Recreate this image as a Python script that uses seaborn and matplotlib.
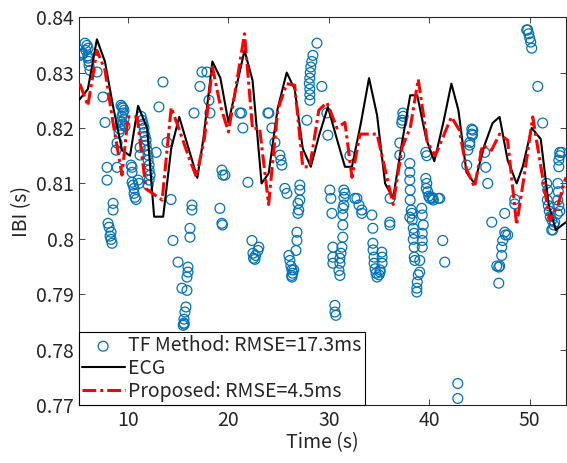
import matplotlib
matplotlib.use("Agg")
import matplotlib.pyplot as plt
import seaborn as sns
import pandas as pd
import numpy as np

# ECG reference IBI
ecg_time = [5.1, 6.0, 6.9, 7.7, 8.5, 9.4, 10.2, 11.0, 11.9, 12.6, 13.5, 14.3, 15.1, 16.0, 16.9,
            17.5, 18.4, 19.2, 20.0, 20.8, 21.6, 22.4, 23.3, 24.0, 24.9, 25.8, 26.6, 27.4, 28.2,
            29.0, 29.9, 30.8, 31.6, 32.3, 33.2, 34.0, 34.8, 35.6, 36.4, 37.2, 38.1, 38.8, 39.7,
            40.5, 41.4, 42.2, 42.9, 43.7, 44.5, 45.5, 46.3, 47.0, 47.8, 48.7, 49.3, 50.2, 51.1,
            51.9, 52.6, 53.6]
ecg_ibi = [0.825, 0.827, 0.836, 0.832, 0.824, 0.816, 0.815, 0.824, 0.820, 0.804, 0.804, 0.8163,
           0.822, 0.8165, 0.811, 0.818, 0.832, 0.829, 0.821, 0.8275, 0.834, 0.8286, 0.810, 0.8118,
           0.8235, 0.830, 0.827, 0.8163, 0.813, 0.8185, 0.8238, 0.818, 0.813, 0.813, 0.821, 0.829,
           0.8223, 0.810, 0.8073, 0.8165, 0.8259, 0.8259, 0.818, 0.814, 0.821, 0.828, 0.8232,
           0.812, 0.810, 0.8169, 0.8209, 0.822, 0.8142, 0.810, 0.813, 0.820, 0.818, 0.806,
           0.8016, 0.803]

# Proposed method IBI
prop_time = [5.2, 6.0, 6.9, 7.7, 8.5, 9.4, 10.0, 10.9, 11.8, 12.6, 13.4, 14.3, 15.1, 16.0, 16.8,
             17.6, 18.4, 19.2, 20.0, 20.8, 21.6, 22.4, 23.1, 24.0, 24.9, 25.8, 26.6, 27.4, 28.1,
             29.0, 29.8, 30.8, 31.6, 32.3, 33.1, 34.0, 34.8, 35.6, 36.4, 37.3, 38.1, 38.9, 39.8,
             40.6, 41.4, 42.2, 43.0, 43.7, 44.5, 45.3, 46.2, 47.0, 47.8, 48.7, 49.5, 50.3, 50.9,
             52.0, 52.8, 53.6]
prop_ibi = [0.828, 0.824, 0.834, 0.8305, 0.821, 0.8115, 0.822, 0.822, 0.809, 0.808, 0.807, 0.8237,
            0.8197, 0.815, 0.8112, 0.818, 0.831, 0.824, 0.8193, 0.828, 0.837, 0.8198, 0.820,
            0.8062, 0.8232, 0.828, 0.8277, 0.813, 0.813, 0.8232, 0.8246, 0.820, 0.821, 0.8111,
            0.8189, 0.8189, 0.8189, 0.8125, 0.8062, 0.8166, 0.820, 0.8288, 0.8175, 0.815, 0.8185,
            0.822, 0.8196, 0.8126, 0.8093, 0.8169, 0.816, 0.8189, 0.8178, 0.8025, 0.812, 0.822,
            0.8153, 0.8033, 0.806, 0.8111]

# TF method IBI estimates
tf_time = [5.22, 5.52, 5.72, 5.92, 6.02, 6.02, 6.12, 6.22, 5.4, 5.8, 6.1, 6.0,
           6.92, 7.51, 7.71, 7.91, 7.91, 8.51, 8.51,
           8.01, 8.11, 8.31, 8.21, 8.31, 8.41,
           9.3, 9.4, 9.5, 9.6, 9.5, 9.4, 9.6, 9.3, 9.5, 9.7, 9.2, 9.1, 9.2,
           8.91, 8.81, 8.91,
           10.3, 10.4, 10.4, 10.4, 10.5, 10.6, 10.6, 10.7, 10.8,
           11.3, 11.4, 11.5, 11.6, 11.6, 11.7, 11.8, 11.8, 11.9, 12.0, 12.0, 12.1, 12.1, 12.2,
           12.1, 12.0, 11.2, 11.2, 11.0, 11.1, 12.8,
           13.08, 13.48, 13.88, 14.28, 14.48,
           14.98, 15.37, 15.87, 15.97, 15.97, 15.87, 15.77, 15.67, 15.57, 15.57, 15.5, 15.6,
           16.17, 16.17, 16.37, 16.37,
           16.57, 17.16, 17.36, 17.86, 18.06, 18.16, 19.35, 19.45, 19.65, 19.15, 19.35, 19.4,
           21.14, 21.3, 21.44, 21.94,
           22.34, 22.44, 22.64, 22.94, 23.03, 22.7, 22.5,
           23.93, 24.03, 24.33, 24.63, 25.12, 25.22, 25.32, 25.62, 25.82,
           27.11, 27.11, 27.11, 27.0, 26.92, 26.92, 26.82, 26.82, 26.72,
           26.02, 26.12, 26.22, 26.32, 26.4, 26.3, 26.32, 26.5,
           28.81, 28.41, 28.3, 28.2, 28.15, 28.1, 28.05, 28.1, 28.1, 28.11, 29.3, 27.81,
           29.8, 29.9,
           30.1, 30.2, 30.3,
           30.4, 30.4, 30.4, 30.6, 30.6, 30.7,
           31.49, 31.5, 31.49, 31.39, 31.39, 31.39, 31.3, 31.2, 31.1, 31.1, 31.0, 31.1,
           31.6, 31.4, 32.09,
           32.59, 32.79, 33.0, 33.28, 33.28,
           34.28, 34.38, 34.38, 34.4, 34.5, 34.5, 34.6, 34.7, 34.8, 35.27, 35.3, 35.3, 35.1,
           35.0, 35.1,
           36.07, 36.07, 36.1,
           37.36, 37.4, 37.3, 37.26, 37.06, 37.06, 38.06, 38.06, 38.06, 38.1, 38.1, 38.2, 38.06,
           38.26, 38.3, 38.4, 38.5, 38.4, 38.5, 38.5, 38.56, 39.05, 39.05, 38.9, 38.8, 38.76,
           38.76, 39.25, 39.3, 39.4, 39.3, 39.3, 39.3, 40.35, 40.4, 40.9,
           39.65, 39.75, 39.65, 39.75, 39.85, 39.95, 40.05, 40.25, 39.7,
           41.04, 41.34, 41.54,
           42.84, 42.84,
           43.73, 43.83, 44.03, 44.23, 44.23, 44.33, 44.3, 44.03,
           45.52, 45.62, 45.82,
           46.22, 47.51, 47.51, 47.6, 47.81, 47.31, 47.21, 47.21, 47.01, 46.72, 46.92, 46.92,
           48.51, 48.51,
           49.70, 49.8, 49.9, 50.0, 50.1, 50.2, 50.80, 51.29,
           51.69, 51.79, 51.75, 51.85, 51.95, 52.05, 52.2, 52.19, 52.3, 52.4, 52.49,
           52.99, 53.18, 53.0, 52.9, 52.9, 52.8, 52.85, 52.8, 52.9, 53.0, 52.75]
tf_ibi = [0.8331, 0.8335, 0.8353, 0.8349, 0.8344, 0.8326, 0.8313, 0.8304, 0.8333, 0.8340, 0.8320, 0.8330,
          0.8301, 0.8256, 0.8210, 0.8129, 0.8106, 0.8064, 0.8052,
          0.8028, 0.8021, 0.8012, 0.8005, 0.7999, 0.7992,
          0.8241, 0.8238, 0.8236, 0.8232, 0.8227, 0.8221, 0.8216, 0.8212, 0.8207, 0.8203, 0.8198, 0.8192, 0.8205,
          0.8173, 0.8160, 0.8129,
          0.8133, 0.8129, 0.8120, 0.8102, 0.8097, 0.8091, 0.8082, 0.8075, 0.8071,
          0.8221, 0.8214, 0.8207, 0.8200, 0.8192, 0.8185, 0.8178, 0.8169, 0.8160, 0.8151, 0.8142, 0.8133, 0.8124, 0.8115,
          0.8106, 0.8097, 0.8165, 0.8151, 0.8106, 0.8100, 0.8156,
          0.8238, 0.8283, 0.8174, 0.8071, 0.7997,
          0.7958, 0.7911, 0.7931, 0.7949, 0.7940, 0.7907, 0.7877, 0.7868, 0.7855, 0.7848, 0.7844, 0.7846,
          0.8019, 0.8003, 0.8061, 0.8052,
          0.8227, 0.8275, 0.8301, 0.8301, 0.8250, 0.8227, 0.8124, 0.8115, 0.8115, 0.8055, 0.8028, 0.8025,
          0.8227, 0.8227, 0.8200, 0.8102,
          0.7997, 0.7974, 0.7963, 0.7979, 0.7985, 0.7970, 0.7965,
          0.8227, 0.8227, 0.8200, 0.8174, 0.8151, 0.8142, 0.8133, 0.8091, 0.8082,
          0.8097, 0.8088, 0.8070, 0.8052, 0.8046, 0.8064, 0.8012, 0.7997, 0.7979,
          0.7970, 0.7961, 0.7951, 0.7944, 0.7938, 0.7934, 0.7931, 0.7944,
          0.8353, 0.8331, 0.8320, 0.8310, 0.8300, 0.8290, 0.8280, 0.8270, 0.8260, 0.8250, 0.8275, 0.8214,
          0.8227, 0.8187,
          0.8088, 0.8073, 0.8046,
          0.7985, 0.7967, 0.7956, 0.7880, 0.7868, 0.7862,
          0.8088, 0.8075, 0.8061, 0.8043, 0.8025, 0.8003, 0.7985, 0.7974, 0.7965, 0.7956, 0.7943, 0.7934,
          0.8082, 0.8055, 0.8150,
          0.8073, 0.8073, 0.8061, 0.8052, 0.8046,
          0.8043, 0.8019, 0.7992, 0.7980, 0.7967, 0.7956, 0.7946, 0.7938, 0.7931, 0.7976, 0.7967, 0.7956, 0.7944,
          0.7935, 0.7940,
          0.8030, 0.8025, 0.8073,
          0.8227, 0.8221, 0.8214, 0.8209, 0.8173, 0.8151, 0.8136, 0.8120, 0.8106, 0.8088, 0.8070, 0.8052, 0.8039,
          0.8046, 0.8034, 0.8019, 0.8010, 0.7999, 0.7985, 0.7967, 0.7961, 0.7961, 0.7940, 0.7935, 0.7922, 0.7911,
          0.7904, 0.8055, 0.8043, 0.8025, 0.8010, 0.7997, 0.7985, 0.8073, 0.8070, 0.8073,
          0.8156, 0.8150, 0.8109, 0.8100, 0.8085, 0.8077, 0.8073, 0.8075, 0.8091,
          0.8073, 0.7997, 0.7958,
          0.7739, 0.7712,
          0.8133, 0.8160, 0.8169, 0.8189, 0.8198, 0.8196, 0.8187, 0.8174,
          0.8156, 0.8129, 0.8100,
          0.8030, 0.8046, 0.8012, 0.8007, 0.8007, 0.7997, 0.7985, 0.7970, 0.7951, 0.7951, 0.7949, 0.7920,
          0.8071, 0.8063,
          0.8377, 0.8377, 0.8370, 0.8362, 0.8355, 0.8344, 0.8275, 0.8209,
          0.8100, 0.8088, 0.8070, 0.8060, 0.8050, 0.8040, 0.8034, 0.8016, 0.8016, 0.8025, 0.8030,
          0.8156, 0.8156, 0.8150, 0.8142, 0.8130, 0.8100, 0.8085, 0.8070, 0.8060, 0.8050, 0.8045]

x_ticks = [10, 20, 30, 40, 50]
y_ticks = [0.77, 0.78, 0.79, 0.80, 0.81, 0.82, 0.83, 0.84]
y_tick_labels = ["0.77", "0.78", "0.79", "0.8", "0.81", "0.82", "0.83", "0.84"]

sns.set_theme(style="ticks")
plt.rcParams['font.family'] = ['Noto Sans CJK JP', 'DejaVu Sans']
plt.rcParams['xtick.direction'] = 'in'
plt.rcParams['ytick.direction'] = 'in'

fig = plt.figure(figsize=(5.67, 4.63), dpi=100)
ax = fig.add_axes([0.139, 0.125, 0.859, 0.838])

tf_df = pd.DataFrame({"t": tf_time, "ibi": tf_ibi})
ecg_df = pd.DataFrame({"t": ecg_time, "ibi": ecg_ibi})
prop_df = pd.DataFrame({"t": prop_time, "ibi": prop_ibi})

sns.scatterplot(data=tf_df, x="t", y="ibi", ax=ax, marker="o", s=50,
                facecolors="none", edgecolor="#0072BD", linewidth=0.9,
                label="TF Method: RMSE=17.3ms", zorder=2)
sns.lineplot(data=ecg_df, x="t", y="ibi", ax=ax, color="black", linewidth=1.5,
             estimator=None, sort=False, label="ECG", zorder=3)
sns.lineplot(data=prop_df, x="t", y="ibi", ax=ax, color="#FF0000", linewidth=2.2,
             estimator=None, sort=False, label="Proposed: RMSE=4.5ms", zorder=4,
             dashes=False)
ax.lines[-1].set_linestyle((0, (4.5, 1.3, 1, 1.3)))

ax.set_xlim(5.1, 53.6)
ax.set_ylim(0.77, 0.84)
ax.set_xticks(x_ticks)
ax.set_yticks(y_ticks)
ax.set_yticklabels(y_tick_labels)
ax.tick_params(axis='both', which='both', direction='in', top=True, right=True,
               labelsize=14, length=4, width=0.6, colors='#262626', labelcolor='#262626')
for sp in ax.spines.values():
    sp.set_visible(True)
    sp.set_linewidth(0.8)
    sp.set_color('#262626')
ax.set_xlabel("Time (s)", fontsize=14, color='#262626', labelpad=1)
ax.set_ylabel("IBI (s)", fontsize=14, color='#262626', labelpad=3)

leg = ax.legend(loc='lower left', borderaxespad=0, fancybox=False, framealpha=1,
                edgecolor='black', fontsize=14, handlelength=2.2, handletextpad=0.2,
                borderpad=0.15, labelspacing=0.1)
leg.get_frame().set_linewidth(0.8)
for h in leg.legend_handles:
    try:
        h.set_facecolor('none')
        h.set_edgecolor('#0072BD')
    except Exception:
        pass

fig.savefig("out.png", dpi=100)
